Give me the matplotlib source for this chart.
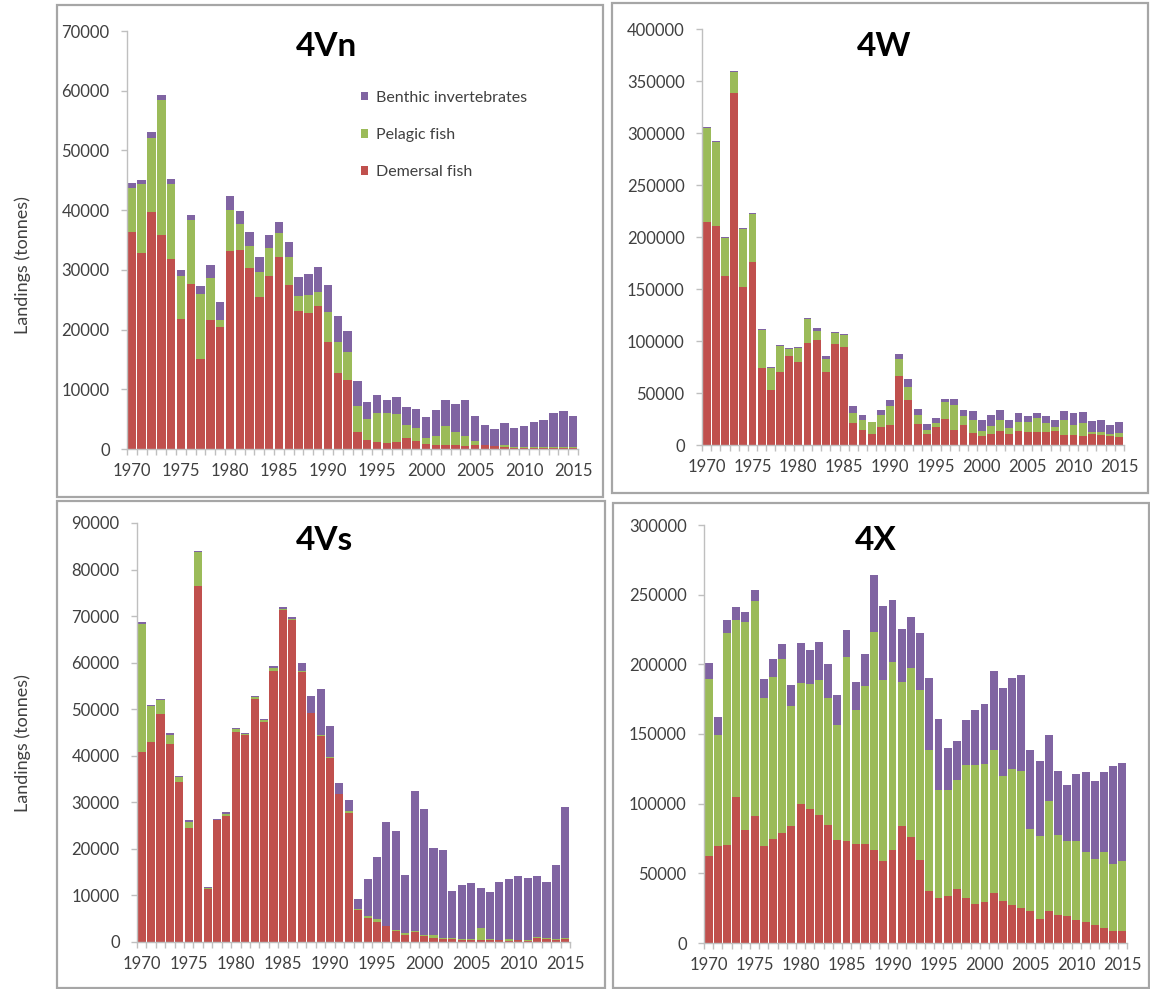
import matplotlib
matplotlib.use('Agg')
import matplotlib.pyplot as plt
from matplotlib.patches import Rectangle
from matplotlib.ticker import FixedLocator, NullFormatter

plt.rcParams['font.family'] = ['Lato', 'DejaVu Sans']

C_DEM = '#C0504D'
C_PEL = '#9BBB59'
C_BEN = '#8064A2'
TXT = '#404040'
AXC = '#BFBFBF'

years = list(range(1970, 2016))

# landings in tonnes: demersal, pelagic, benthic invertebrates
vn_dem = [36400, 32800, 39700, 35800, 31900, 21800, 27700, 15100, 21600, 20350,
          33200, 33400, 30300, 25500, 29000, 32100, 27500, 23150, 22750, 24000,
          17900, 12700, 11550, 2900, 1500, 1250, 950, 1250, 1800, 1400,
          800, 600, 600, 600, 500, 600, 600, 500, 300, 250,
          250, 250, 250, 250, 250, 250]
vn_pel = [7300, 11500, 12400, 22700, 12500, 7200, 10600, 10900, 7100, 1300,
          6800, 4350, 3650, 4200, 4650, 4050, 4600, 2500, 3000, 2250,
          5000, 5150, 4650, 4350, 3450, 4750, 5050, 4600, 2250, 2050,
          1100, 1650, 3300, 2200, 1700, 750, 100, 50, 400, 50,
          50, 50, 50, 50, 50, 50]
vn_ben = [850, 800, 950, 850, 800, 1000, 950, 1350, 2100, 2900,
          2450, 2050, 2350, 2400, 2150, 1900, 2550, 3150, 3600, 4250,
          4500, 4350, 3600, 4150, 2850, 3050, 2200, 2800, 2950, 3250,
          3400, 4300, 4300, 4700, 6050, 4250, 3300, 2800, 3700, 3150,
          3550, 4300, 4550, 5800, 6050, 5200]

w_dem = [214000, 211000, 162500, 338000, 151500, 175500, 74000, 53000, 70300, 85600,
         79900, 98400, 100600, 70300, 97400, 94600, 21100, 14700, 10900, 17600,
         19200, 66500, 43500, 20100, 10200, 16900, 24900, 14700, 19200, 11500,
         8300, 10900, 13700, 10900, 13100, 12100, 12800, 12100, 13100, 9600,
         9600, 8300, 10200, 9600, 8300, 7300]
w_pel = [91000, 80000, 36500, 20500, 56000, 46500, 36500, 21400, 24700, 7100,
         13400, 23000, 9000, 12100, 9900, 10800, 9600, 9600, 10800, 11200,
         17900, 15900, 12700, 9000, 4200, 4200, 16000, 23600, 8900, 12500,
         5100, 7000, 10600, 5100, 9300, 9600, 12800, 9000, 3800, 14400,
         9600, 12800, 2600, 3200, 2200, 3900]
w_ben = [1200, 1000, 800, 800, 800, 800, 800, 600, 800, 600,
         700, 800, 2900, 3200, 1000, 900, 6400, 4500, 500, 4700,
         6000, 5500, 7100, 5400, 5700, 4500, 3800, 6400, 5400, 8300,
         10900, 10900, 9200, 8000, 8300, 5800, 5100, 6400, 7100, 8900,
         11200, 10200, 9900, 11200, 8700, 10500]

vs_dem = [40900, 42900, 49000, 42500, 34400, 24500, 76400, 11300, 26100, 27000,
          45200, 44500, 52100, 47300, 58300, 71400, 69200, 58100, 49100, 44200,
          39600, 31700, 27800, 6800, 5200, 4400, 3400, 2400, 1600, 2200,
          1200, 900, 700, 600, 500, 500, 500, 400, 400, 200,
          400, 300, 900, 600, 400, 600]
vs_pel = [27400, 7700, 3000, 2000, 1100, 1300, 7400, 300, 200, 600,
          500, 200, 600, 400, 500, 100, 100, 100, 100, 200,
          100, 100, 300, 200, 300, 600, 100, 100, 400, 200,
          200, 500, 200, 200, 100, 200, 2400, 200, 100, 500,
          100, 100, 100, 200, 200, 200]
vs_ben = [500, 300, 200, 300, 200, 500, 200, 200, 200, 400,
          300, 100, 200, 300, 500, 400, 600, 1700, 3700, 9900,
          6700, 2400, 2500, 2300, 8100, 13300, 22200, 21300, 12300, 30100,
          27100, 18800, 18800, 10200, 11600, 12000, 8700, 10200, 12300, 12800,
          13600, 13400, 13100, 12100, 16000, 28300]

x_dem = [62600, 69300, 70500, 104700, 80800, 90800, 69300, 74600, 78900, 83700,
         99900, 96300, 91600, 84400, 74100, 73400, 71000, 71200, 66500, 58600,
         66500, 84100, 76000, 59300, 37100, 32300, 33900, 39000, 32300, 28200,
         29200, 35900, 30400, 27500, 25100, 22700, 17200, 22700, 19800, 19100,
         16700, 14800, 12700, 10800, 8800, 8800]
x_pel = [127000, 80100, 151800, 127200, 149900, 154900, 106400, 116200, 125000, 86500,
         86600, 89700, 97200, 91300, 82500, 131700, 96300, 113600, 157000, 130200,
         135500, 103500, 121200, 122400, 101100, 77700, 75600, 78100, 95100, 99200,
         99200, 102300, 89100, 97500, 98700, 59300, 59800, 78900, 57900, 53800,
         56200, 50200, 47500, 54200, 47900, 49800]
x_ben = [11700, 13100, 9600, 9500, 6700, 7700, 13900, 12900, 10500, 15100,
         28600, 24400, 27100, 24600, 21500, 19600, 20300, 22700, 40600, 53100,
         44200, 37800, 37100, 41100, 51800, 50900, 30300, 28200, 32300, 39900,
         43000, 57100, 63800, 65500, 68600, 56200, 53800, 47800, 46100, 40200,
         48500, 57400, 56200, 57600, 70000, 70500]

W, H = 1150, 989
fig = plt.figure(figsize=(W / 100, H / 100), dpi=100)

def px_axes(x0, y0, x1, y1):
    return fig.add_axes([x0 / W, 1 - y1 / H, (x1 - x0) / W, (y1 - y0) / H])

def panel(ax, dem, pel, ben, ymax, ystep, title, tx, ty):
    pos = list(range(len(years)))
    base2 = [d + p for d, p in zip(dem, pel)]
    ax.bar(pos, dem, width=0.86, color=C_DEM, label='Demersal fish', linewidth=0)
    ax.bar(pos, pel, width=0.86, bottom=dem, color=C_PEL, label='Pelagic fish', linewidth=0)
    ax.bar(pos, ben, width=0.86, bottom=base2, color=C_BEN,
           label='Benthic invertebrates', linewidth=0)
    ax.set_xlim(-0.5, len(years) - 0.5)
    ax.set_ylim(0, ymax)
    ax.set_yticks(range(0, ymax + 1, ystep))
    ax.set_xticks([i for i, y in enumerate(years) if y % 5 == 0])
    ax.set_xticklabels([str(y) for y in years if y % 5 == 0])
    ax.xaxis.set_minor_locator(FixedLocator([i - 0.5 for i in range(len(years) + 1)]))
    ax.xaxis.set_minor_formatter(NullFormatter())
    for s in ['top', 'right']:
        ax.spines[s].set_visible(False)
    for s in ['left', 'bottom']:
        ax.spines[s].set_color(AXC)
        ax.spines[s].set_linewidth(1.0)
    ax.tick_params(axis='y', colors=AXC, labelcolor=TXT, labelsize=12,
                   length=4.5, width=1, pad=8)
    ax.tick_params(axis='x', which='major', length=0, labelcolor=TXT,
                   labelsize=12, pad=10)
    ax.tick_params(axis='x', which='minor', colors=AXC, length=4.5, width=1)
    fig.text(tx / W, 1 - ty / H, title, fontsize=24, fontweight='bold',
             ha='center', va='center', color='black')
    return ax

ax1 = panel(px_axes(127, 31, 578, 449), vn_dem, vn_pel, vn_ben, 70000, 10000,
            '4Vn', 326, 47)
ax2 = panel(px_axes(702, 29, 1124, 445), w_dem, w_pel, w_ben, 400000, 50000,
            '4W', 884, 47)
ax3 = panel(px_axes(137, 523, 570, 942), vs_dem, vs_pel, vs_ben, 90000, 10000,
            '4Vs', 324, 541)
ax4 = panel(px_axes(704, 525, 1127, 943), x_dem, x_pel, x_ben, 300000, 50000,
            '4X', 876, 541)

handles, labels = ax1.get_legend_handles_labels()
ax1.legend(handles[::-1], labels[::-1], loc='upper left',
           bbox_to_anchor=(361 / W, 1 - 91 / H), bbox_transform=fig.transFigure,
           frameon=False, fontsize=11.5, handlelength=0.42, handleheight=0.42,
           handletextpad=0.55, labelspacing=1.45, borderpad=0, borderaxespad=0,
           labelcolor=TXT)

for yc in (265, 743):
    fig.text(23 / W, 1 - yc / H, 'Landings (tonnes)', rotation=90, fontsize=13,
             ha='center', va='center', color=TXT)

# grey frames round each panel
for x0, y0, x1, y1 in [(57, 5, 603, 497), (612, 3, 1148, 493),
                       (57, 501, 605, 988), (613, 503, 1149, 988)]:
    fig.patches.append(Rectangle((x0 / W, 1 - y1 / H), (x1 - x0) / W, (y1 - y0) / H,
                                 transform=fig.transFigure, fill=False,
                                 edgecolor='#A6A6A6', linewidth=1.6))

fig.savefig('out.png', dpi=100)
